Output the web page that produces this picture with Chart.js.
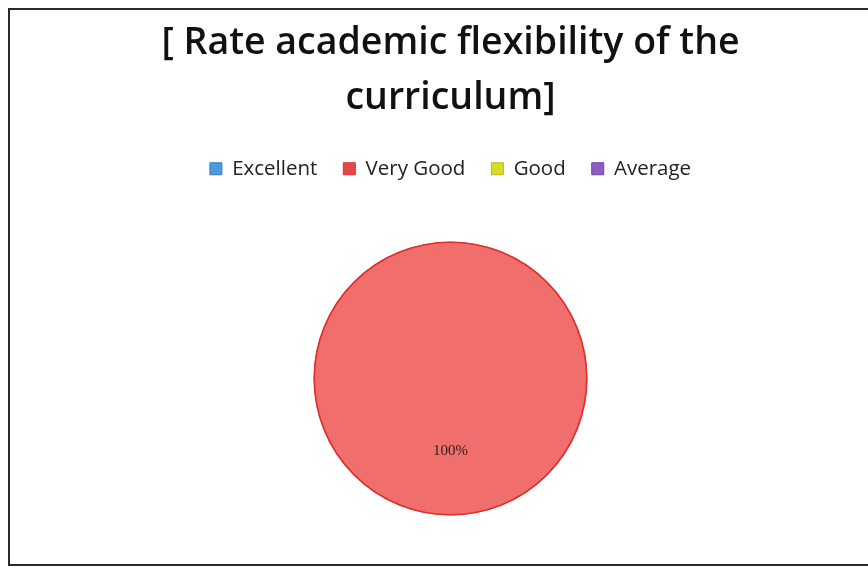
<!DOCTYPE html>
<html>
<head>
<meta charset="utf-8">
<script src="https://cdn.jsdelivr.net/npm/chart.js@4/dist/chart.umd.min.js"></script>
<style>
  html, body { margin: 0; padding: 0; background: #ffffff; width: 868px; height: 568px; overflow: hidden; }
  #frame { position: absolute; left: 8px; top: 8px; width: 900px; height: 558px; border: 2px solid #2a2a2a; box-sizing: border-box; }
  #wrap { position: absolute; left: 0; top: 0; width: 868px; height: 568px; }
</style>
</head>
<body>
<div id="frame"></div>
<div id="wrap"><canvas id="c" width="868" height="568"></canvas></div>
<script>
const titleLines = ['[ Rate academic flexibility of the', 'curriculum]'];
const categories = ['Excellent', 'Very Good', 'Good', 'Average'];
const values = [0, 100, 0, 0];
const percentLabels = ['', '100%', '', ''];

const sliceColors = ['#6aa6e0', '#f06e6c', '#dcdc40', '#9368c4'];
const legendColors = ['#4b9be0', '#e8474a', '#d9db26', '#8c5cc2'];
const borderColors = ['#3a7fc0', '#e0302c', '#b8b820', '#6f45a3'];

const outlineAndLabels = {
  id: 'sliceLabels',
  afterDatasetsDraw(chart) {
    const ctx = chart.ctx;
    const meta = chart.getDatasetMeta(0);
    ctx.save();
    meta.data.forEach((arc, i) => {
      if (!values[i]) return;
      const { x, y, outerRadius, startAngle, endAngle } = arc.getProps(['x', 'y', 'outerRadius', 'startAngle', 'endAngle'], true);
      ctx.beginPath();
      ctx.arc(x, y, outerRadius - 0.75, startAngle, endAngle);
      ctx.strokeStyle = borderColors[i];
      ctx.lineWidth = 1.6;
      ctx.stroke();
    });
    ctx.font = '15px "Liberation Serif", "DejaVu Serif", serif';
    ctx.fillStyle = '#2a1f1d';
    ctx.textAlign = 'center';
    ctx.textBaseline = 'middle';
    meta.data.forEach((arc, i) => {
      if (!values[i]) return;
      const p = arc.tooltipPosition();
      ctx.fillText(percentLabels[i], p.x, p.y + 4);
    });
    ctx.restore();
  }
};

new Chart(document.getElementById('c'), {
  type: 'pie',
  data: {
    labels: categories,
    datasets: [{
      data: values,
      backgroundColor: sliceColors,
      borderWidth: 0
    }]
  },
  options: {
    responsive: false,
    animation: false,
    radius: 137,
    layout: { padding: { left: 33, right: 0, top: 0, bottom: 0 } },
    plugins: {
      tooltip: { enabled: false },
      title: {
        display: true,
        text: titleLines,
        color: '#111111',
        font: { family: '"Open Sans", sans-serif', size: 37.5, weight: '600', lineHeight: 1.46 },
        padding: { top: 16, bottom: 7 }
      },
      legend: {
        display: true,
        position: 'top',
        labels: {
          color: '#222222',
          font: { family: '"Open Sans", sans-serif', size: 20.5 },
          boxWidth: 12,
          boxHeight: 12,
          padding: 26,
          generateLabels(chart) {
            return categories.map((c, i) => ({
              text: c,
              fillStyle: legendColors[i],
              strokeStyle: borderColors[i],
              lineWidth: 1,
              hidden: false,
              index: i,
              fontColor: '#222222'
            }));
          }
        }
      }
    }
  },
  plugins: [outlineAndLabels]
});
</script>
</body>
</html>
